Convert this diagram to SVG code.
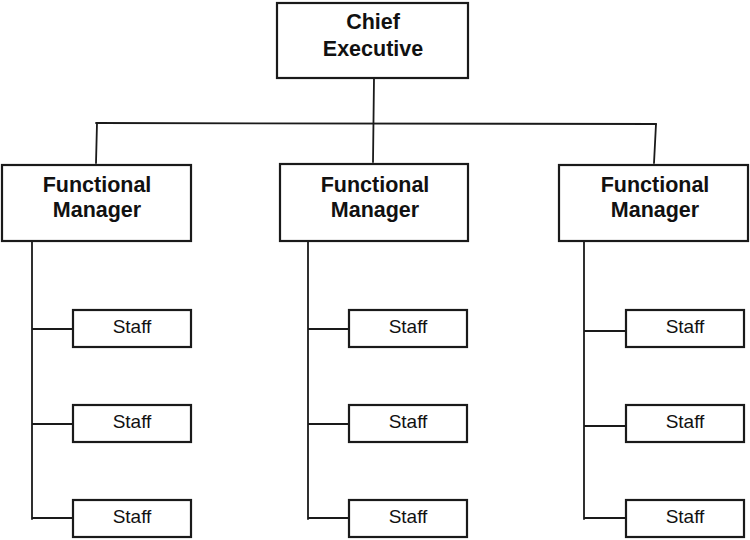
<svg xmlns="http://www.w3.org/2000/svg" width="750" height="540" viewBox="0 0 750 540">
<style>
.box{fill:#fff;stroke:#1a1a1a;stroke-width:2.2}
.ln{fill:none;stroke:#1a1a1a;stroke-width:1.8;stroke-linecap:round}
.big{font-family:"Liberation Sans",Arial,sans-serif;font-weight:bold;font-size:21.5px;fill:#111;text-anchor:middle}
.sm{font-family:"Liberation Sans",Arial,sans-serif;font-size:19px;fill:#111;text-anchor:middle}
</style>
<rect width="750" height="540" fill="#fff"/>
<g id="connectors">
<path class="ln" d="M374 78 L373 162"/>
<path class="ln" d="M96 123 L656 124"/>
<path class="ln" d="M97 123 L96 163"/>
<path class="ln" d="M656 124 L654 163"/>
<path class="ln" d="M32 241 L32 519 M32 329 L73 329 M32 424 L73 424 M32 518 L73 518"/>
<path class="ln" d="M308 241 L308 519 M308 329 L349 329 M308 424 L349 424 M308 518 L349 518"/>
<path class="ln" d="M584 241 L584 519 M584 331 L626 331 M584 426 L626 426 M584 518 L626 518"/>
</g>
<g id="chief"><rect class="box" x="277" y="3" width="191" height="75"/><text class="big" x="373" y="29">Chief</text><text class="big" x="373" y="56">Executive</text></g>
<g id="fm1"><rect class="box" x="2" y="165" width="189" height="76"/><text class="big" x="97" y="192">Functional</text><text class="big" x="97" y="217">Manager</text></g>
<g id="fm2"><rect class="box" x="280" y="164" width="188" height="77"/><text class="big" x="375" y="192">Functional</text><text class="big" x="375" y="217">Manager</text></g>
<g id="fm3"><rect class="box" x="559" y="165" width="189" height="76"/><text class="big" x="655" y="192">Functional</text><text class="big" x="655" y="217">Manager</text></g>
<g id="s11"><rect class="box" x="73" y="310" width="118" height="37"/><text class="sm" x="132" y="333">Staff</text></g>
<g id="s12"><rect class="box" x="73" y="405" width="118" height="37"/><text class="sm" x="132" y="428">Staff</text></g>
<g id="s13"><rect class="box" x="73" y="500" width="118" height="37"/><text class="sm" x="132" y="523">Staff</text></g>
<g id="s21"><rect class="box" x="349" y="310" width="118" height="37"/><text class="sm" x="408" y="333">Staff</text></g>
<g id="s22"><rect class="box" x="349" y="405" width="118" height="37"/><text class="sm" x="408" y="428">Staff</text></g>
<g id="s23"><rect class="box" x="349" y="500" width="118" height="37"/><text class="sm" x="408" y="523">Staff</text></g>
<g id="s31"><rect class="box" x="626" y="310" width="118" height="37"/><text class="sm" x="685" y="333">Staff</text></g>
<g id="s32"><rect class="box" x="626" y="405" width="118" height="37"/><text class="sm" x="685" y="428">Staff</text></g>
<g id="s33"><rect class="box" x="626" y="500" width="118" height="37"/><text class="sm" x="685" y="523">Staff</text></g>
</svg>
